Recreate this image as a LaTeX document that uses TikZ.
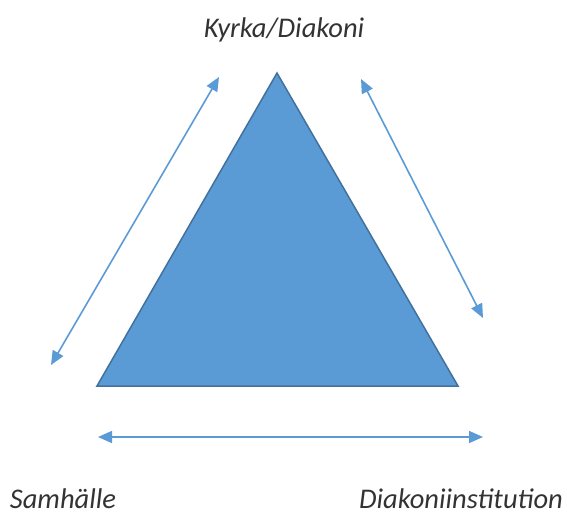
\documentclass[tikz,border=0pt]{standalone}
\usepackage{fontspec}
\setmainfont{Carlito}
\usetikzlibrary{arrows.meta}
\definecolor{triFill}{HTML}{5B9BD5}
\definecolor{triEdge}{HTML}{41719C}
\definecolor{arrowBlue}{HTML}{5B9BD5}
\tikzset{
  biarrow/.style={draw=arrowBlue, line width=1.6pt, {Triangle[length=14pt,width=12pt]}-{Triangle[length=14pt,width=12pt]}},
  label/.style={font=\fontsize{28.5}{32}\selectfont\itshape, text=black!80, inner sep=0pt, anchor=base}
}
\begin{document}
\begin{tikzpicture}[x=1pt,y=-1pt]
\useasboundingbox (0,0) rectangle (567,514);
\coordinate (top) at (277,73);
\coordinate (bl) at (97,386);
\coordinate (br) at (458,386);
\filldraw[fill=triFill, draw=triEdge, line width=1.5pt, line join=miter] (top) -- (bl) -- (br) -- cycle;
\coordinate (l1) at (219,77);
\coordinate (l2) at (51,365);
\coordinate (r1) at (361,79);
\coordinate (r2) at (483,318);
\coordinate (b1) at (98,437);
\coordinate (b2) at (483,437);
\draw[biarrow] (l1) -- (l2);
\draw[biarrow] (r1) -- (r2);
\draw[biarrow] (b1) -- (b2);
\node[label] (kyrka) at (284,37) {Kyrka/Diakoni};
\node[label] (samh) at (63,508) {Samhälle};
\node[label] (inst) at (461,508) {Diakoniinstitution};
\end{tikzpicture}
\end{document}
